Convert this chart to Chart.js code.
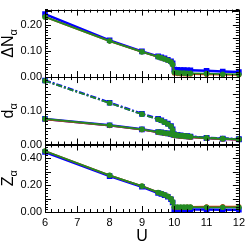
<!DOCTYPE html>
<html>
<head>
<meta charset="utf-8">
<script src="https://cdn.jsdelivr.net/npm/chart.js@4"></script>
<style>
  html, body { margin: 0; padding: 0; background: #fff; }
</style>
</head>
<body>
<canvas id="chart" width="249" height="243"></canvas>
<script>
// interaction strength
const U = [6, 8, 9, 9.5, 9.6, 9.7, 9.8, 9.9, 9.95, 10, 10.1, 10.2, 10.3, 10.4, 10.5, 11, 11.5, 12];

// Delta N_alpha
const dN_blue  = [0.240, 0.140, 0.098, 0.079, 0.075, 0.071, 0.066, 0.060, 0.052, 0.029, 0.028, 0.027, 0.027, 0.026, 0.026, 0.024, 0.021, 0.019];
const dN_red   = [0.229, 0.137, 0.096, 0.077, 0.073, 0.069, 0.064, 0.057, 0.047, 0.015, 0.013, 0.012, 0.012, 0.011, 0.011, 0.010, 0.009, 0.008];
const dN_green = [0.229, 0.137, 0.096, 0.077, 0.073, 0.069, 0.064, 0.057, 0.048, 0.018, 0.016, 0.015, 0.015, 0.014, 0.014, 0.013, 0.011, 0.010];

// d_alpha, upper (dash-dot) and lower (solid) branches
const dUp_blue   = [0.190, 0.124, 0.091, 0.076, 0.072, 0.067, 0.062, 0.055, 0.045, 0.030, 0.028, 0.027, 0.026, 0.025, 0.024, 0.020, 0.018, 0.016];
const dUp_green  = [0.189, 0.123, 0.090, 0.075, 0.071, 0.066, 0.061, 0.054, 0.044, 0.030, 0.028, 0.027, 0.026, 0.025, 0.024, 0.020, 0.018, 0.016];
const dLow_blue  = [0.076, 0.057, 0.045, 0.037, 0.036, 0.034, 0.033, 0.031, 0.030, 0.028, 0.027, 0.026, 0.025, 0.024, 0.023, 0.019, 0.017, 0.015];
const dLow_red   = [0.075, 0.056, 0.044, 0.036, 0.035, 0.033, 0.032, 0.030, 0.029, 0.026, 0.025, 0.024, 0.023, 0.022, 0.021, 0.018, 0.016, 0.014];
const dLow_green = [0.076, 0.057, 0.045, 0.037, 0.036, 0.034, 0.033, 0.031, 0.030, 0.028, 0.027, 0.026, 0.025, 0.024, 0.023, 0.019, 0.017, 0.015];

// Z_alpha
const Z_blue  = [0.445, 0.266, 0.187, 0.141, 0.133, 0.124, 0.113, 0.094, 0.070, 0.020, 0.019, 0.019, 0.019, 0.018, 0.018, 0.018, 0.017, 0.017];
const Z_red   = [0.452, 0.272, 0.192, 0.145, 0.137, 0.128, 0.117, 0.098, 0.075, 0.036, 0.036, 0.036, 0.036, 0.037, 0.037, 0.039, 0.040, 0.040];
const Z_green = [0.452, 0.272, 0.192, 0.145, 0.137, 0.128, 0.117, 0.098, 0.075, 0.038, 0.037, 0.037, 0.036, 0.036, 0.036, 0.035, 0.035, 0.034];

// tick labels
const U_TICKS = [6, 7, 8, 9, 10, 11, 12];
const N_TICKS = [0, 0.05, 0.10, 0.15, 0.20, 0.25];
const D_TICKS = [0, 0.05, 0.10, 0.15];
const Z_TICKS = [0, 0.10, 0.20, 0.30, 0.40];

const BLUE = '#0000ff';
const RED = '#e03010';
const GREEN = '#238b23';
const tickFont = { family: 'Liberation Sans', size: 11 };

function series(values, axis, color, kind, dash) {
  const ds = {
    data: U.map((u, i) => ({ x: u, y: values[i] })),
    yAxisID: axis,
    borderColor: color,
    backgroundColor: color,
    borderDash: dash || [],
    clip: 5,
    tension: 0
  };
  if (kind === 'blue') {
    Object.assign(ds, { borderWidth: 2.5, pointStyle: 'rect', pointRadius: 2.2, order: 3 });
  } else if (kind === 'red') {
    Object.assign(ds, { borderWidth: 1.8, pointStyle: 'circle', pointRadius: 1.6, order: 2 });
  } else {
    Object.assign(ds, { borderWidth: 1.8, pointStyle: 'circle', pointRadius: 1.9, order: 1 });
  }
  return ds;
}

const datasets = [
  series(dN_blue, 'yN', BLUE, 'blue'),
  series(dN_red, 'yN', RED, 'red'),
  series(dN_green, 'yN', GREEN, 'green'),
  series(dUp_blue, 'yD', BLUE, 'blue', [6, 2, 2, 2]),
  series(dUp_green, 'yD', GREEN, 'green', [6, 2, 2, 2]),
  series(dLow_blue, 'yD', BLUE, 'blue'),
  series(dLow_red, 'yD', RED, 'red'),
  series(dLow_green, 'yD', GREEN, 'green'),
  series(Z_blue, 'yZ', BLUE, 'blue'),
  series(Z_red, 'yZ', RED, 'red'),
  series(Z_green, 'yZ', GREEN, 'green')
];

function yAxis(max, ticks) {
  return {
    type: 'linear',
    position: 'left',
    stack: 'panels',
    stackWeight: 1,
    min: 0,
    max: max,
    grid: { display: false, drawTicks: false },
    border: { display: false },
    ticks: { padding: 3, font: tickFont, color: '#000', callback: v => v.toFixed(2) },
    afterBuildTicks: s => { s.ticks = ticks.map(v => ({ value: v })); },
    afterFit: s => { s.width = 45; }
  };
}

// frame, inward ticks and subscripted axis titles
const panelInfo = {
  yN: { ticks: N_TICKS, minor: 0.01, main: '\u0394N' },
  yD: { ticks: D_TICKS.concat([0.20]), minor: 0.01, main: 'd' },
  yZ: { ticks: Z_TICKS.concat([0.50]), minor: 0.02, main: 'Z' }
};

const framePlugin = {
  id: 'frame',
  afterDraw(chart) {
    const ctx = chart.ctx;
    const area = chart.chartArea;
    const x = chart.scales.x;
    ctx.save();
    ctx.strokeStyle = '#000';
    ctx.lineWidth = 1;
    for (const id of ['yN', 'yD', 'yZ']) {
      const s = chart.scales[id];
      const info = panelInfo[id];
      const top = s.top, bottom = s.bottom;
      ctx.beginPath();
      // x ticks, top and bottom of the panel
      for (let k = 0; k <= 30; k++) {
        const px = Math.round(x.getPixelForValue(6 + k * 0.2)) + 0.5;
        const len = k % 5 === 0 ? 6 : 3;
        ctx.moveTo(px, bottom); ctx.lineTo(px, bottom - len);
        ctx.moveTo(px, top); ctx.lineTo(px, top + len);
      }
      // y ticks, left and right
      const n = Math.round(s.max / info.minor);
      for (let k = 0; k <= n; k++) {
        const v = k * info.minor;
        const py = Math.round(s.getPixelForValue(v)) + 0.5;
        const major = info.ticks.some(t => Math.abs(t - v) < 1e-6);
        const len = major ? 6 : 3;
        ctx.moveTo(area.left, py); ctx.lineTo(area.left + len, py);
        ctx.moveTo(area.right, py); ctx.lineTo(area.right - len, py);
      }
      ctx.stroke();
      ctx.strokeRect(Math.round(area.left) + 0.5, Math.round(top) + 0.5,
        Math.round(area.right - area.left), Math.round(bottom - top));

      // title with subscript alpha
      ctx.save();
      ctx.fillStyle = '#000';
      ctx.translate(13, (top + bottom) / 2);
      ctx.rotate(-Math.PI / 2);
      ctx.font = '16px "Liberation Sans"';
      const wMain = ctx.measureText(info.main).width;
      ctx.font = '11px "Liberation Sans"';
      const wSub = ctx.measureText('\u03b1').width;
      const start = -(wMain + wSub) / 2;
      ctx.textBaseline = 'alphabetic';
      ctx.font = '16px "Liberation Sans"';
      ctx.fillText(info.main, start, 0);
      ctx.font = '11px "Liberation Sans"';
      ctx.fillText('\u03b1', start + wMain, 4);
      ctx.restore();
    }
    // x title
    ctx.fillStyle = '#000';
    ctx.font = '16px "Liberation Sans"';
    ctx.textAlign = 'center';
    ctx.textBaseline = 'middle';
    ctx.fillText('U', (area.left + area.right) / 2, x.bottom - 6);
    ctx.restore();
  }
};

new Chart(document.getElementById('chart').getContext('2d'), {
  type: 'line',
  data: { datasets: datasets },
  options: {
    responsive: false,
    animation: false,
    layout: { padding: { top: 5, right: 6, left: 0, bottom: 0 } },
    plugins: { legend: { display: false }, tooltip: { enabled: false } },
    scales: {
      x: {
        type: 'linear',
        min: 6,
        max: 12,
        grid: { display: false, drawTicks: false },
        border: { display: false },
        ticks: { padding: 4, font: tickFont, color: '#000', maxRotation: 0, autoSkip: false },
        afterBuildTicks: s => { s.ticks = U_TICKS.map(v => ({ value: v })); },
        afterFit: s => { s.height = 31; }
      },
      // stacked scales are placed bottom-up in definition order
      yZ: yAxis(0.50, Z_TICKS),
      yD: yAxis(0.20, D_TICKS),
      yN: yAxis(0.257, N_TICKS)
    }
  },
  plugins: [framePlugin]
});
</script>
</body>
</html>
